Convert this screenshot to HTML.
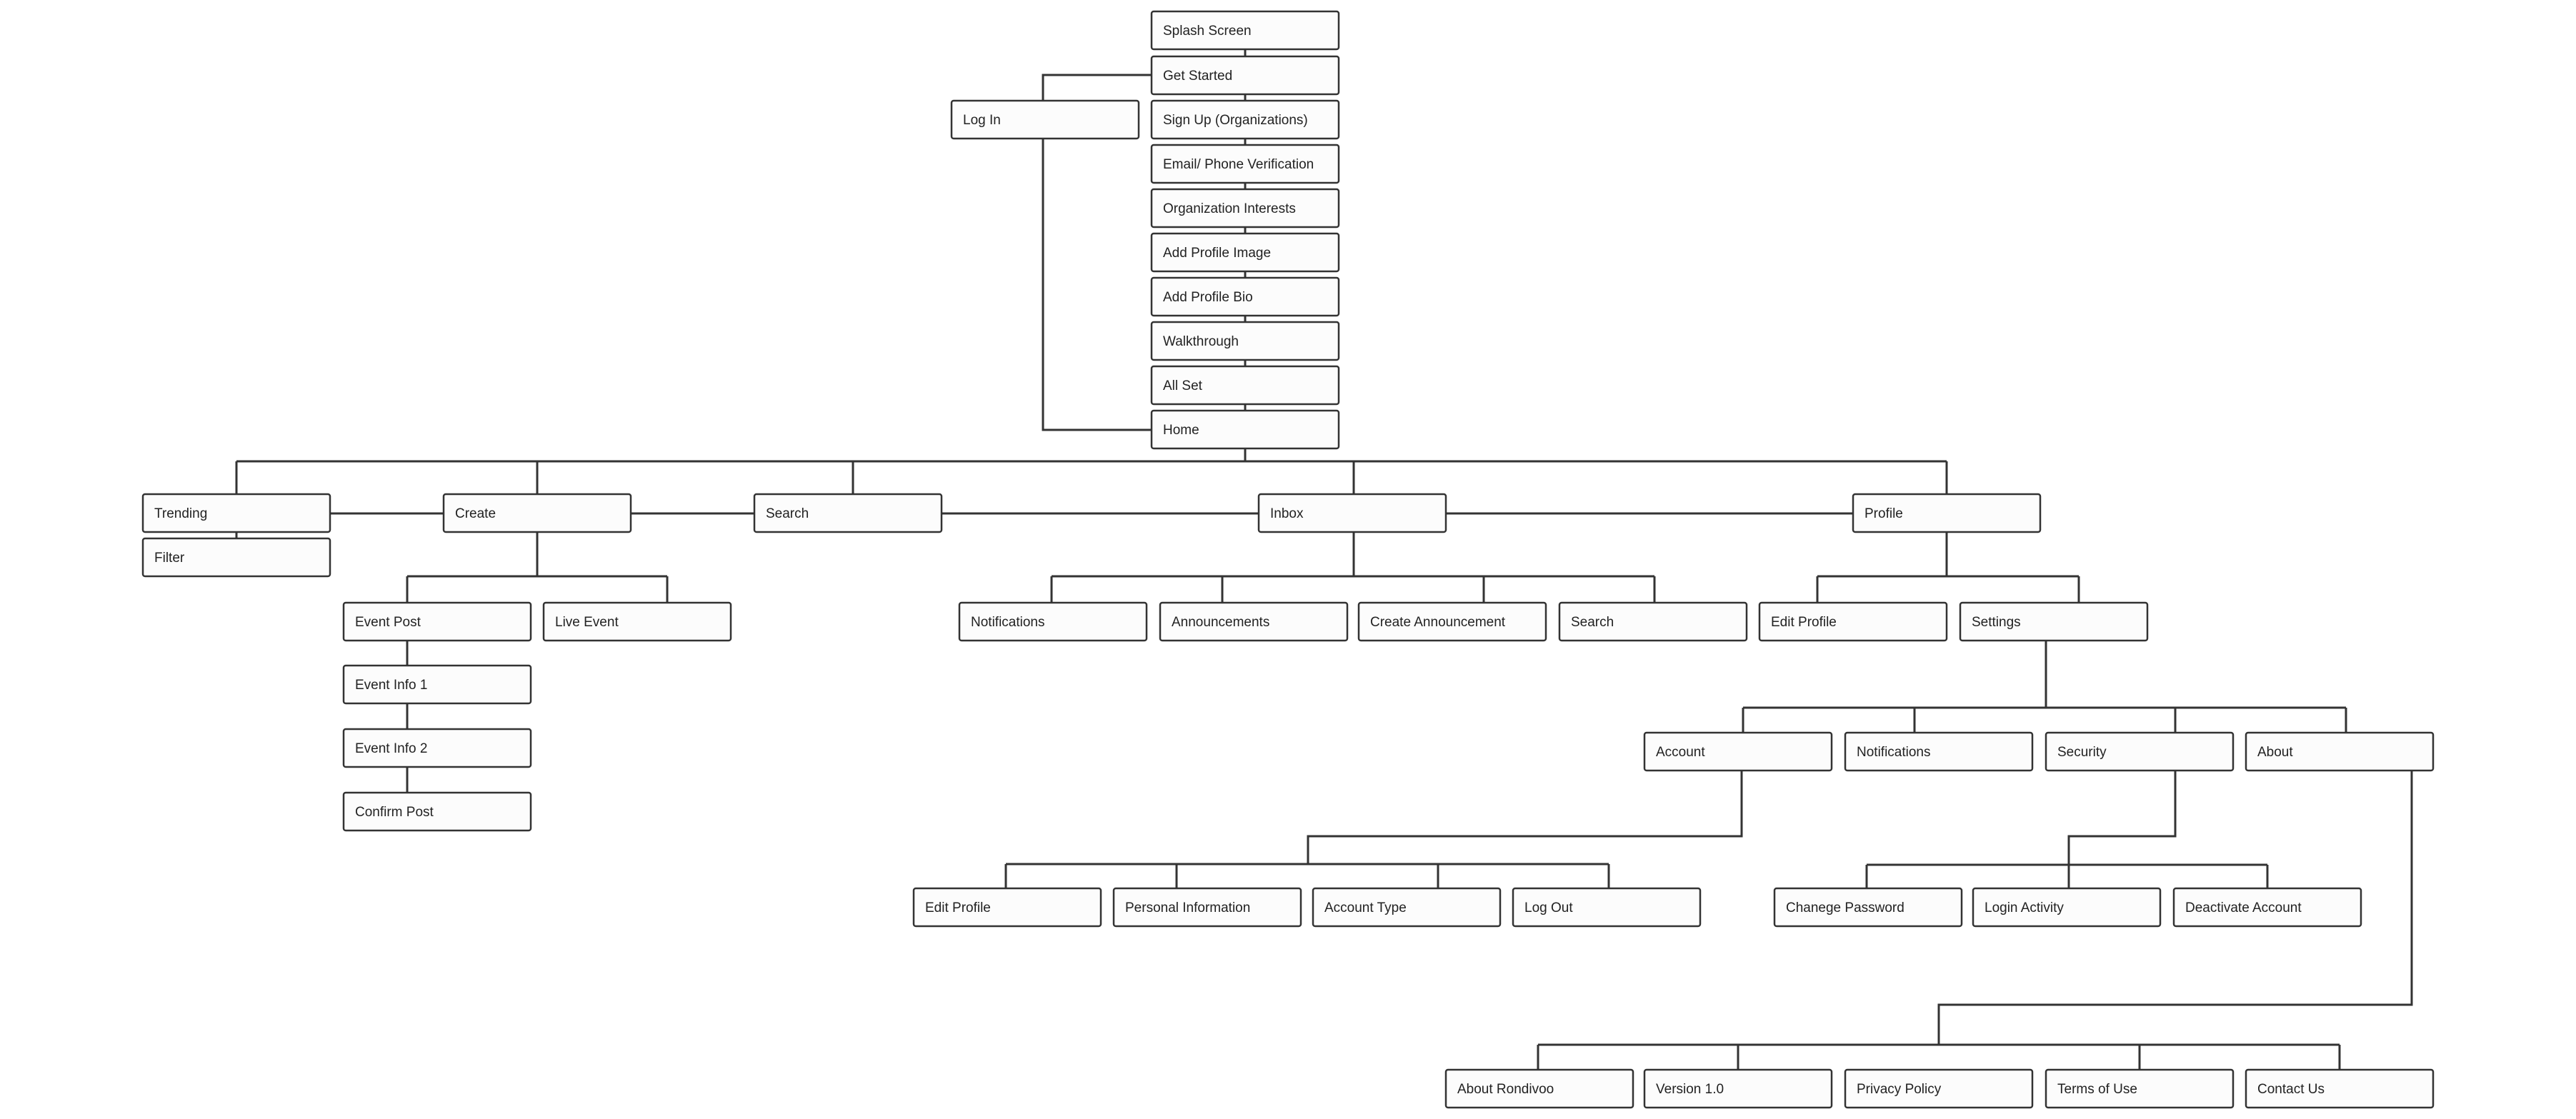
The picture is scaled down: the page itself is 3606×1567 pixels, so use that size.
<!DOCTYPE html>
<html><head><meta charset="utf-8"><style>
html,body{margin:0;padding:0;background:#fff;}
svg{display:block;}
text{font-family:"Liberation Sans",Arial,sans-serif;font-size:19px;fill:#222;}
rect{fill:#fcfcfc;stroke:#333;stroke-width:2.5;}
path{fill:none;stroke:#333;stroke-width:3;}
</style></head><body>
<svg width="3606" height="1567" viewBox="0 0 3606 1567" xmlns="http://www.w3.org/2000/svg">
<!-- connectors -->
<path d="M1743 42V600"/>
<path d="M1612 105H1460V140M1460 193V602H1612"/>
<path d="M1743 628V646M331 646H2725M331 646V692M752 646V692M1194 646V692M1895 646V692M2725 646V692"/>
<path d="M462 719H2594"/>
<path d="M331 745V754"/>
<path d="M752 745V807M570 807H934M570 807V844M934 807V844M570 897V1111"/>
<path d="M1895 745V807M1472 807H2316M1472 807V844M1711 807V844M2077 807V844M2316 807V844"/>
<path d="M2725 745V807M2544 807H2910M2544 807V844M2910 807V844"/>
<path d="M2864 897V991M2440 991H3284M2440 991V1026M2680 991V1026M3045 991V1026M3284 991V1026"/>
<path d="M2438 1079V1171H1831V1210M1408 1210H2252M1408 1210V1244M1647 1210V1244M2013 1210V1244M2252 1210V1244"/>
<path d="M3045 1079V1171H2896V1244M2613 1211H3174M2613 1211V1244M3174 1211V1244"/>
<path d="M3376 1079V1407H2714V1463M2153 1463H3275M2153 1463V1498M2433 1463V1498M2995 1463V1498M3275 1463V1498"/>
<!-- boxes -->
<g>
<rect x="1612" y="16" width="262" height="53" rx="3"/><text x="1628" y="49">Splash Screen</text>
<rect x="1612" y="79" width="262" height="53" rx="3"/><text x="1628" y="112">Get Started</text>
<rect x="1612" y="141" width="262" height="53" rx="3"/><text x="1628" y="174">Sign Up (Organizations)</text>
<rect x="1612" y="203" width="262" height="53" rx="3"/><text x="1628" y="236">Email/ Phone Verification</text>
<rect x="1612" y="265" width="262" height="53" rx="3"/><text x="1628" y="298">Organization Interests</text>
<rect x="1612" y="327" width="262" height="53" rx="3"/><text x="1628" y="360">Add Profile Image</text>
<rect x="1612" y="389" width="262" height="53" rx="3"/><text x="1628" y="422">Add Profile Bio</text>
<rect x="1612" y="451" width="262" height="53" rx="3"/><text x="1628" y="484">Walkthrough</text>
<rect x="1612" y="513" width="262" height="53" rx="3"/><text x="1628" y="546">All Set</text>
<rect x="1612" y="575" width="262" height="53" rx="3"/><text x="1628" y="608">Home</text>
<rect x="1332" y="141" width="262" height="53" rx="3"/><text x="1348" y="174">Log In</text>

<rect x="200" y="692" width="262" height="53" rx="3"/><text x="216" y="725">Trending</text>
<rect x="200" y="754" width="262" height="53" rx="3"/><text x="216" y="787">Filter</text>
<rect x="621" y="692" width="262" height="53" rx="3"/><text x="637" y="725">Create</text>
<rect x="1056" y="692" width="262" height="53" rx="3"/><text x="1072" y="725">Search</text>
<rect x="1762" y="692" width="262" height="53" rx="3"/><text x="1778" y="725">Inbox</text>
<rect x="2594" y="692" width="262" height="53" rx="3"/><text x="2610" y="725">Profile</text>

<rect x="481" y="844" width="262" height="53" rx="3"/><text x="497" y="877">Event Post</text>
<rect x="761" y="844" width="262" height="53" rx="3"/><text x="777" y="877">Live Event</text>
<rect x="481" y="932" width="262" height="53" rx="3"/><text x="497" y="965">Event Info 1</text>
<rect x="481" y="1021" width="262" height="53" rx="3"/><text x="497" y="1054">Event Info 2</text>
<rect x="481" y="1110" width="262" height="53" rx="3"/><text x="497" y="1143">Confirm Post</text>

<rect x="1343" y="844" width="262" height="53" rx="3"/><text x="1359" y="877">Notifications</text>
<rect x="1624" y="844" width="262" height="53" rx="3"/><text x="1640" y="877">Announcements</text>
<rect x="1902" y="844" width="262" height="53" rx="3"/><text x="1918" y="877">Create Announcement</text>
<rect x="2183" y="844" width="262" height="53" rx="3"/><text x="2199" y="877">Search</text>
<rect x="2463" y="844" width="262" height="53" rx="3"/><text x="2479" y="877">Edit Profile</text>
<rect x="2744" y="844" width="262" height="53" rx="3"/><text x="2760" y="877">Settings</text>

<rect x="2302" y="1026" width="262" height="53" rx="3"/><text x="2318" y="1059">Account</text>
<rect x="2583" y="1026" width="262" height="53" rx="3"/><text x="2599" y="1059">Notifications</text>
<rect x="2864" y="1026" width="262" height="53" rx="3"/><text x="2880" y="1059">Security</text>
<rect x="3144" y="1026" width="262" height="53" rx="3"/><text x="3160" y="1059">About</text>

<rect x="1279" y="1244" width="262" height="53" rx="3"/><text x="1295" y="1277">Edit Profile</text>
<rect x="1559" y="1244" width="262" height="53" rx="3"/><text x="1575" y="1277">Personal Information</text>
<rect x="1838" y="1244" width="262" height="53" rx="3"/><text x="1854" y="1277">Account Type</text>
<rect x="2118" y="1244" width="262" height="53" rx="3"/><text x="2134" y="1277">Log Out</text>

<rect x="2484" y="1244" width="262" height="53" rx="3"/><text x="2500" y="1277">Chanege Password</text>
<rect x="2762" y="1244" width="262" height="53" rx="3"/><text x="2778" y="1277">Login Activity</text>
<rect x="3043" y="1244" width="262" height="53" rx="3"/><text x="3059" y="1277">Deactivate Account</text>

<rect x="2024" y="1498" width="262" height="53" rx="3"/><text x="2040" y="1531">About Rondivoo</text>
<rect x="2302" y="1498" width="262" height="53" rx="3"/><text x="2318" y="1531">Version 1.0</text>
<rect x="2583" y="1498" width="262" height="53" rx="3"/><text x="2599" y="1531">Privacy Policy</text>
<rect x="2864" y="1498" width="262" height="53" rx="3"/><text x="2880" y="1531">Terms of Use</text>
<rect x="3144" y="1498" width="262" height="53" rx="3"/><text x="3160" y="1531">Contact Us</text>
</g>
</svg>
</body></html>
